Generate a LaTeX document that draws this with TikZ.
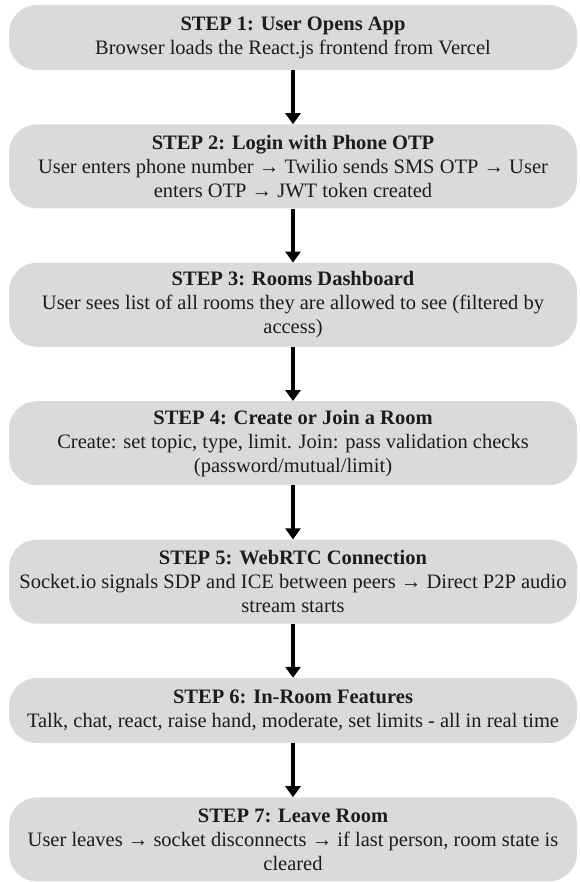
\documentclass[tikz,border=0pt]{standalone}
\usepackage{fontspec}
\setmainfont{Liberation Serif}
\usetikzlibrary{arrows.meta}
\usetikzlibrary{positioning}
\definecolor{stepfill}{RGB}{218,218,218}
\definecolor{steptext}{RGB}{28,28,28}

\begin{document}
\begin{tikzpicture}[x=1pt,y=1pt,
    stepbox/.style={rectangle, rounded corners=28pt, fill=stepfill, text=steptext,
      minimum width=568pt, minimum height=84pt, inner sep=0pt, align=center,
      font=\fontsize{20.5}{24}\selectfont},
    shortbox/.style={stepbox, minimum height=65pt},
    flow/.style={-{Triangle[width=15pt,length=11pt]}, line width=4pt, black},
    node distance=54pt]
        \useasboundingbox (0,0) rectangle (579,-882);
        \node[shortbox] (open) at (293,-37.5) {\textbf{STEP 1: User Opens App}\\Browser loads the React.js frontend from Vercel};
        \node[stepbox, below=of open] (login) {\textbf{STEP 2: Login with Phone OTP}\\User enters phone number → Twilio sends SMS OTP → User\\enters OTP → JWT token created};
        \node[stepbox, below=of login] (rooms) {\textbf{STEP 3: Rooms Dashboard}\\User sees list of all rooms they are allowed to see (filtered by\\access)};
        \node[stepbox, below=of rooms] (join) {\textbf{STEP 4: Create or Join a Room}\\Create: set topic, type, limit. Join: pass validation checks\\(password/mutual/limit)};
        \node[stepbox, below=of join] (rtc) {\textbf{STEP 5: WebRTC Connection}\\Socket.io signals SDP and ICE between peers → Direct P2P audio\\stream starts};
        \node[shortbox, below=of rtc] (feat) {\textbf{STEP 6: In-Room Features}\\Talk, chat, react, raise hand, moderate, set limits - all in real time};
        \node[stepbox, below=of feat] (leave) {\textbf{STEP 7: Leave Room}\\User leaves → socket disconnects → if last person, room state is\\cleared};
        % one arrow between each pair of steps
        \draw[flow] (open) -- (login);
        \draw[flow] (login) -- (rooms);
        \draw[flow] (rooms) -- (join);
        \draw[flow] (join) -- (rtc);
        \draw[flow] (rtc) -- (feat);
        \draw[flow] (feat) -- (leave);
\end{tikzpicture}
\end{document}
